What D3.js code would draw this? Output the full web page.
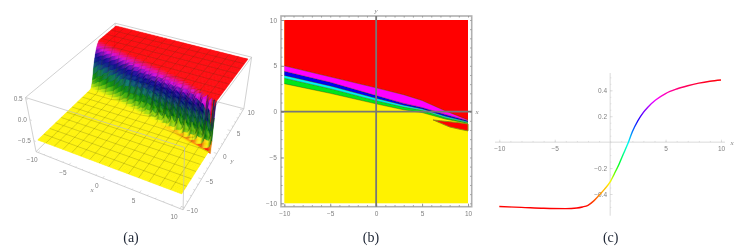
<!DOCTYPE html>
<html>
<head>
<meta charset="utf-8">
<script src="https://cdn.jsdelivr.net/npm/d3@7"></script>
<style>
body { margin: 0; background: #fff; }
svg { display: block; filter: blur(.35px); }
.tl { font-family: "Liberation Sans", sans-serif; font-size: 6.5px; fill: #808080; }
.ax { font-family: "Liberation Serif", serif; font-style: italic; font-size: 7px; fill: #808080; }
.cap { font-family: "Liberation Serif", serif; font-size: 14px; fill: #1c2433; text-anchor: middle; }
.axis text { font-family: "Liberation Sans", sans-serif; font-size: 6.5px; fill: #808080; }
.axis .domain { display: none; }
</style>
</head>
<body>
<svg id="chart" width="745" height="251"></svg>
<script>
// panel (a): where the wall of the surface sits, y read per column of x
let wallX = [-10,-9.5,-9,-8.5,-8,-7.5,-7,-6.5,-6,-5.5,-5,-4.5,-4,-3.5,-3,-2.5,-2,-1.5,-1,-.5,0,.5,1,1.5,2,2.5,3,3.5,4,4.5,5,5.5,6,6.5,7,7.5,8,8.5,9,9.5,10];
let wallMid = [3.9,3.8,3.65,3.65,3.5,3.45,3.3,3.25,3.15,3,2.85,2.8,2.55,2.55,2.25,2.3,2,2.1,1.7,1.8,1.45,1.6,1.1,1.4,.85,1.15,.6,.9,.35,.7,.12,.5,-.1,.25,-.3,.02,-.55,-.22,-.8,-.5,-1.05];
let edgeX = [-10,-5,0,5,7.5,10];
let wallLow = [2.8,1.8,.6,-.3,-.9,-1.4];
let wallHigh = [5.4,4.2,3,1.6,.5,-.8];
let dipX = [-10,2,5,8,10];
let dipDepth = [0,0,.03,.07,.12];
let profileT = [0,.25,.5,.75,1];
let profileLow = [-.5,-.46,-.36,-.2,0];
let profileHigh = [0,.18,.34,.44,.5];

// panel (b): lower edge of each contour band
let bandX = [-10,-5,0,3,5,7.5,10];
let redLower = [5,3.8,2.6,1.85,1.22,.1,-.9];
let magentaLower = [4.4,3.2,1.75,.9,.45,-.3,-1];
let blueLower = [3.95,2.8,1.45,.7,.3,-.5,-1.1];
let cyanLower = [3.65,2.5,1.2,.5,.15,-.65,-1.2];
let greenLower = [3.05,2,.85,.2,-.1,-.8,-1.3];
let sliverX = [6.2,7,8,9,10];
let sliverTop = [-.9,-1,-1.1,-1.2,-1.35];
let sliverBottom = [-.9,-1.25,-1.67,-1.9,-2.1];

// panel (c): the slice
let sliceX = [-10,-8,-6,-4,-3,-2.5,-2,-1.5,-1,-.5,0,.4,.8,1.2,1.6,2,2.5,3,3.4,4.1,5,6,7,8,9,10];
let sliceZ = [-.497,-.503,-.51,-.513,-.508,-.5,-.487,-.455,-.41,-.362,-.306,-.24,-.17,-.09,-.01,.08,.165,.23,.27,.325,.375,.41,.435,.455,.47,.48];

let ticks5 = [-10,-5,0,5,10];
let ticks1 = d3.range(-10,11);

let svg = d3.select("#chart");

// hue of the surface and contours, low yellow going round to red
let hueA = d3.scaleLinear().domain([-.62,-.5,-.36,-.2,-.05,.05,.2,.33,.42,.5]).range([0,57,90,125,170,215,245,285,320,358]).clamp(true);
let hueC = d3.scaleLinear().domain([-.5,-.4,-.3,-.2,0,.15,.33,.48]).range([0,35,60,120,180,240,300,358]).clamp(true);
// the lit surface looks darker in the green and blue part
let litA = d3.scaleLinear().domain([0,57,90,125,190,240,300,358]).range([1,1,.75,.5,.42,.55,.85,1]);

// ---------- panel (a)
function quadMap(p){
    let dx1 = p[1][0]-p[2][0], dx2 = p[3][0]-p[2][0], sx = p[0][0]-p[1][0]+p[2][0]-p[3][0];
    let dy1 = p[1][1]-p[2][1], dy2 = p[3][1]-p[2][1], sy = p[0][1]-p[1][1]+p[2][1]-p[3][1];
    let den = dx1*dy2-dx2*dy1;
    let g = (sx*dy2-dx2*sy)/den, h = (dx1*sy-sx*dy1)/den;
    let a = p[1][0]-p[0][0]+g*p[1][0], b = p[3][0]-p[0][0]+h*p[3][0];
    let d = p[1][1]-p[0][1]+g*p[1][1], e = p[3][1]-p[0][1]+h*p[3][1];
    return (u,v) => {
        let w = g*u+h*v+1;
        return [(a*u+b*v+p[0][0])/w, (d*u+e*v+p[0][1])/w];
    };
}
let lowQuad = quadMap([[37.7,140],[181.7,194],[242,99],[115,66]]);
let highQuad = quadMap([[30,98],[183,146],[248,59],[116,26]]);
let uScale = d3.scaleLinear().domain([-10,10]).range([0,1]);
let vScale = d3.scaleLinear().domain([-10,10]).range([0,1]);
let tScale = d3.scaleLinear().domain([-.5,.5]).range([0,1]);

function project(x,y,z){
    let lo = lowQuad(uScale(x),vScale(y)), hi = highQuad(uScale(x),vScale(y)), t = tScale(z);
    return [lo[0]+(hi[0]-lo[0])*t, lo[1]+(hi[1]-lo[1])*t];
}
let midAt = d3.scaleLinear().domain(wallX).range(wallMid);
let lowAt = d3.scaleLinear().domain(edgeX).range(wallLow);
let highAt = d3.scaleLinear().domain(edgeX).range(wallHigh);
let dipAt = d3.scaleLinear().domain(dipX).range(dipDepth);
let riseLow = d3.scaleLinear().domain(profileT).range(profileLow);
let riseHigh = d3.scaleLinear().domain(profileT).range(profileHigh);

function zAt(x,y){
    let lo = lowAt(x), mid = midAt(x), hi = highAt(x);
    if(y <= lo){
        let below = (lo-y)/.8;
        return below < 1 ? -.5-dipAt(x)*(1-below) : -.5;
    }
    if(y <= mid) return riseLow((y-lo)/(mid-lo))-dipAt(x)*Math.max(0,1-(y-lo)/.3);
    if(y <= hi) return riseHigh((y-mid)/(hi-mid));
    return .5;
}

let gA = svg.append("g").attr("class","panelA");
let boxR = 10.35, boxLo = -.76, boxHi = .53;
function boxEdge(a,b){
    gA.append("line")
        .attr("x1",project(...a)[0]).attr("y1",project(...a)[1])
        .attr("x2",project(...b)[0]).attr("y2",project(...b)[1])
        .attr("stroke","#bdbdbd").attr("stroke-width",.7);
}
// back of the box goes under the surface
boxEdge([-boxR,boxR,boxLo],[boxR,boxR,boxLo]);
boxEdge([-boxR,boxR,boxLo],[-boxR,-boxR,boxLo]);
boxEdge([-boxR,boxR,boxLo],[-boxR,boxR,boxHi]);
boxEdge([-boxR,boxR,boxHi],[boxR,boxR,boxHi]);
boxEdge([-boxR,boxR,boxHi],[-boxR,-boxR,boxHi]);
boxEdge([boxR,boxR,boxLo],[boxR,boxR,boxHi]);
boxEdge([boxR,boxR,boxHi],[boxR,-boxR,boxHi]);
boxEdge([-boxR,-boxR,boxLo],[-boxR,-boxR,boxHi]);

let stepX = .125, stepY = .2, cells = [];
for(let j = 99; j >= 0; j--){
    for(let i = 0; i < 160; i++){
        cells.push([-10+i*stepX,-10+j*stepY]);
    }
}
gA.append("g").selectAll("path")
    .data(cells).enter().append("path")
    .attr("d", d => {
        let x = d[0], y = d[1], x2 = Math.min(10,x+stepX), y2 = Math.min(10,y+stepY);
        return d3.line()([project(x,y,zAt(x,y)),project(x2,y,zAt(x2,y)),
            project(x2,y2,zAt(x2,y2)),project(x,y2,zAt(x,y2))])+"Z";
    })
    .each(function(d){
        let x = d[0]+stepX/2, y = d[1]+stepY/2, z = zAt(x,y);
        let dx = (zAt(x+stepX/2,y)-zAt(x-stepX/2,y))/stepX;
        let hue = hueA(z);
        let shade = litA(hue)*(1-Math.min(.3,Math.abs(dx)*.4));
        let c = d3.rgb(d3.hsl(hue,1,.5));
        let col = d3.rgb(c.r*shade,c.g*shade,c.b*shade).formatHex();
        d3.select(this).attr("fill",col).attr("stroke",col).attr("stroke-width",.35);
    });

// mesh on the surface
let meshVals = d3.range(1,15).map(i => -10+i*20/15);
let fine = d3.range(-10,10.01,.125);
let meshLine = d3.line();
gA.append("g").selectAll("path.mx").data(meshVals).enter().append("path")
    .attr("d", m => meshLine(fine.map(y => project(m,y,zAt(m,y)))))
    .attr("fill","none").attr("stroke","#3a3a10").attr("stroke-opacity",.42).attr("stroke-width",.5);
gA.append("g").selectAll("path.my").data(meshVals).enter().append("path")
    .attr("d", m => meshLine(fine.filter((x,i) => i%4 === 0).map(x => project(x,m,zAt(x,m)))))
    .attr("fill","none").attr("stroke","#3a3a10").attr("stroke-opacity",.42).attr("stroke-width",.5);

// front of the box
boxEdge([-boxR,-boxR,boxLo],[boxR,-boxR,boxLo]);
boxEdge([boxR,-boxR,boxLo],[boxR,boxR,boxLo]);
boxEdge([boxR,-boxR,boxLo],[boxR,-boxR,boxHi]);
boxEdge([-boxR,-boxR,boxHi],[boxR,-boxR,boxHi]);

function tickA(a,b){
    gA.append("line").attr("x1",project(...a)[0]).attr("y1",project(...a)[1])
        .attr("x2",project(...b)[0]).attr("y2",project(...b)[1])
        .attr("stroke","#bdbdbd").attr("stroke-width",.5);
}
ticks1.forEach(t => {
    let len = t%5 === 0 ? .4 : .2;
    tickA([t,-boxR,boxLo],[t,-boxR+len,boxLo]);
    tickA([boxR,t,boxLo],[boxR-len,t,boxLo]);
});
ticks5.forEach(t => {
    let p = project(t,-boxR,boxLo);
    gA.append("text").attr("class","tl").attr("x",p[0]-6).attr("y",p[1]+10).attr("text-anchor","middle").text(String(t).replace("-","\u2212"));
    let q = project(boxR,t,boxLo);
    gA.append("text").attr("class","tl").attr("x",q[0]+8).attr("y",q[1]+5).attr("text-anchor","middle").text(String(t).replace("-","\u2212"));
});
[-.5,0,.5].forEach(t => {
    let p = project(-boxR,-boxR,t);
    gA.append("text").attr("class","tl").attr("x",p[0]-3).attr("y",p[1]+2).attr("text-anchor","end").text(t.toFixed(1).replace("-","\u2212"));
    tickA([-boxR,-boxR,t],[-boxR+.3,-boxR,t]);
});
gA.append("text").attr("class","ax").attr("x",92).attr("y",192).attr("text-anchor","middle").text("x");
gA.append("text").attr("class","ax").attr("x",232).attr("y",163).attr("text-anchor","middle").text("y");
gA.append("text").attr("class","cap").attr("x",131).attr("y",242).text("(a)");

// ---------- panel (b)
let xB = d3.scaleLinear().domain([-10,10]).range([284.3,468]);
let yB = d3.scaleLinear().domain([-10,10]).range([203.3,20]);
let gB = svg.append("g").attr("class","panelB");

gB.append("rect").attr("x",xB(-10)).attr("y",yB(10)).attr("width",xB(10)-xB(-10)).attr("height",yB(-10)-yB(10)).attr("fill","#fff200");

let bandArea = d3.area().x(d => xB(d[0])).y0(d => yB(d[1])).y1(d => yB(d[2]));
let bandEdge = d3.line().x(d => xB(d[0])).y(d => yB(d[1]));
let stacks = [
    {fill:"#00e51a", top:cyanLower, low:greenLower},
    {fill:"#00f5f5", top:blueLower, low:cyanLower},
    {fill:"#0000f0", top:magentaLower, low:blueLower},
    {fill:"#ff00ff", top:redLower, low:magentaLower},
    {fill:"#ff0000", top:bandX.map(() => 10), low:redLower}
];
stacks.forEach(s => {
    gB.append("path").attr("d",bandArea(bandX.map((x,i) => [x,s.low[i],s.top[i]]))).attr("fill",s.fill);
    gB.append("path").attr("d",bandEdge(bandX.map((x,i) => [x,s.low[i]]))).attr("fill","none").attr("stroke","#222").attr("stroke-width",.5).attr("stroke-opacity",.7);
});
gB.append("path").attr("d",bandArea(sliverX.map((x,i) => [x,sliverBottom[i],sliverTop[i]])))
    .attr("fill","#ff0000").attr("stroke","#8a8a10").attr("stroke-width",.9);

// frame
gB.append("rect").attr("x",281).attr("y",16).attr("width",190.7).attr("height",190.7).attr("fill","none").attr("stroke","#b0b0b0").attr("stroke-width",1.6);
function frameTicks(g){ g.selectAll("line").attr("stroke","#999"); }
gB.append("g").attr("class","axis").attr("transform","translate(0,206.7)")
    .call(d3.axisBottom(xB).tickValues(ticks1).tickSize(-1.5).tickFormat("")).call(frameTicks);
gB.append("g").attr("class","axis").attr("transform","translate(0,206.7)")
    .call(d3.axisBottom(xB).tickValues(ticks5).tickSize(-3).tickPadding(5).tickFormat(d => String(d).replace("-","\u2212"))).call(frameTicks);
gB.append("g").attr("class","axis").attr("transform","translate(281,0)")
    .call(d3.axisLeft(yB).tickValues(ticks1).tickSize(-1.5).tickFormat("")).call(frameTicks);
gB.append("g").attr("class","axis").attr("transform","translate(281,0)")
    .call(d3.axisLeft(yB).tickValues(ticks5).tickSize(-3).tickPadding(4).tickFormat(d => String(d).replace("-","\u2212"))).call(frameTicks);
gB.append("g").attr("class","axis").attr("transform","translate(471.7,0)")
    .call(d3.axisRight(yB).tickValues(ticks1).tickSize(-1.5).tickFormat("")).call(frameTicks);
gB.append("g").attr("class","axis").attr("transform","translate(0,16)")
    .call(d3.axisTop(xB).tickValues(ticks1).tickSize(-1.5).tickFormat("")).call(frameTicks);

// cross lines at the origin
gB.append("line").attr("x1",xB(0)).attr("x2",xB(0)).attr("y1",16).attr("y2",206.7).attr("stroke","#777").attr("stroke-width",1.8);
gB.append("line").attr("x1",281).attr("x2",471.7).attr("y1",yB(0)).attr("y2",yB(0)).attr("stroke","#777").attr("stroke-width",1.8);
gB.append("text").attr("class","ax").attr("x",376).attr("y",12.5).attr("text-anchor","middle").text("y");
gB.append("text").attr("class","ax").attr("x",477).attr("y",114).attr("text-anchor","middle").text("x");
gB.append("text").attr("class","cap").attr("x",371).attr("y",242).text("(b)");

// ---------- panel (c)
let xC = d3.scaleLinear().domain([-10,10]).range([499.3,721]);
let yC = d3.scaleLinear().domain([-.4,.4]).range([194,90.3]);
let gC = svg.append("g").attr("class","panelC");

function lightAxis(g){ g.selectAll("line").attr("stroke","#cfcfcf").attr("stroke-width",.6); }
gC.append("line").attr("x1",495).attr("x2",725).attr("y1",yC(0)).attr("y2",yC(0)).attr("stroke","#cfcfcf").attr("stroke-width",.8);
gC.append("line").attr("x1",xC(0)).attr("x2",xC(0)).attr("y1",73).attr("y2",215.7).attr("stroke","#cfcfcf").attr("stroke-width",.8);
gC.append("g").attr("class","axis").attr("transform",`translate(0,${yC(0)})`)
    .call(d3.axisBottom(xC).tickValues(ticks1).tickSize(-1.2).tickFormat("")).call(lightAxis);
gC.append("g").attr("class","axis").attr("transform",`translate(0,${yC(0)})`)
    .call(d3.axisBottom(xC).tickValues(ticks5.filter(d => d !== 0)).tickSize(-2.5).tickPadding(4).tickFormat(d => String(d).replace("-","\u2212"))).call(lightAxis);
gC.append("g").attr("class","axis").attr("transform",`translate(${xC(0)},0)`)
    .call(d3.axisLeft(yC).tickValues(d3.range(-.5,.51,.05)).tickSize(-1.2).tickFormat("")).call(lightAxis);
gC.append("g").attr("class","axis").attr("transform",`translate(${xC(0)},0)`)
    .call(d3.axisLeft(yC).tickValues([-.4,-.2,.2,.4]).tickSize(-2.5).tickPadding(3).tickFormat(d => d.toFixed(1).replace("-","\u2212"))).call(lightAxis);
gC.append("text").attr("class","ax").attr("x",732).attr("y",145).attr("text-anchor","middle").text("x");

let grad = svg.append("defs").append("linearGradient").attr("id","sliceGrad")
    .attr("gradientUnits","userSpaceOnUse").attr("x1",xC(-10)).attr("x2",xC(10)).attr("y1",0).attr("y2",0);
grad.selectAll("stop").data(sliceX).enter().append("stop")
    .attr("offset",d => (d+10)/20)
    .attr("stop-color",(d,i) => d3.hsl(hueC(sliceZ[i]),1,.5).formatHex());
gC.append("path")
    .attr("d",d3.line().x((d,i) => xC(sliceX[i])).y((d,i) => yC(sliceZ[i])).curve(d3.curveMonotoneX)(sliceX))
    .attr("fill","none").attr("stroke","url(#sliceGrad)").attr("stroke-width",1.4);
gC.append("text").attr("class","cap").attr("x",610.7).attr("y",242).text("(c)");
</script>
</body>
</html>
